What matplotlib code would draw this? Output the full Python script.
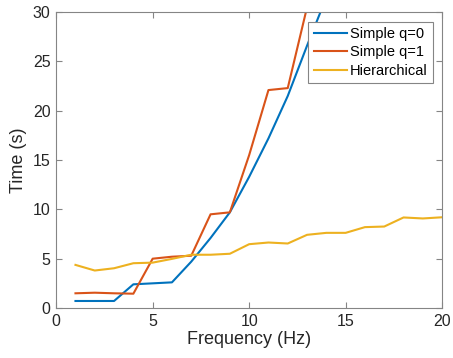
import matplotlib
matplotlib.use("Agg")
import matplotlib.pyplot as plt

# Valores
freq = list(range(1, 21))
simple_q0_freq = freq[:14]
simple_q0 = [0.71, 0.71, 0.71, 2.4, 2.5, 2.6, 4.7, 7.1, 9.7, 13.3,
             17.2, 21.5, 26.6, 31.5]
simple_q1_freq = freq[:13]
simple_q1 = [1.49, 1.55, 1.49, 1.45, 5.0, 5.2, 5.3, 9.5, 9.7, 15.5,
             22.1, 22.3, 30.5]
hierarchical = [4.37, 3.8, 4.03, 4.54, 4.6, 4.98, 5.4, 5.4, 5.5, 6.47,
                6.64, 6.54, 7.42, 7.62, 7.62, 8.2, 8.26, 9.18, 9.08, 9.2]

x_ticks = [0, 5, 10, 15, 20]
y_ticks = [0, 5, 10, 15, 20, 25, 30]

plt.rcParams['font.family'] = ['Liberation Sans', 'DejaVu Sans']
text_color = '#262626'
axis_color = '#858585'

fig = plt.figure(figsize=(4.53, 3.58), dpi=100)
ax = fig.add_axes([0.124, 0.1397, 0.852, 0.8263])

ax.plot(simple_q0_freq, simple_q0, color='#0072BD', lw=1.5, label='Simple q=0')
ax.plot(simple_q1_freq, simple_q1, color='#D95319', lw=1.5, label='Simple q=1')
ax.plot(freq, hierarchical, color='#EDB120', lw=1.5, label='Hierarchical')

ax.set_xlim(0, 20)
ax.set_ylim(0, 30)
ax.set_xticks(x_ticks)
ax.set_yticks(y_ticks)
ax.tick_params(direction='in', top=True, right=True, length=4, width=0.8,
               color=axis_color, labelcolor=text_color, labelsize=11.5, pad=4)
for sp in ax.spines.values():
    sp.set_color(axis_color)
    sp.set_linewidth(0.8)

ax.set_xlabel('Frequency (Hz)', fontsize=13, color=text_color, labelpad=2)
ax.set_ylabel('Time (s)', fontsize=13, color=text_color, labelpad=4)

leg = ax.legend(loc='upper right', bbox_to_anchor=(0.976, 0.968), fontsize=10.5,
                fancybox=False, framealpha=1, edgecolor=axis_color,
                handlelength=2.3, handletextpad=0.2, borderpad=0.35,
                labelspacing=0.32, borderaxespad=0)
leg.get_frame().set_linewidth(0.8)

fig.savefig('out.png', dpi=100)
plt.close(fig)
